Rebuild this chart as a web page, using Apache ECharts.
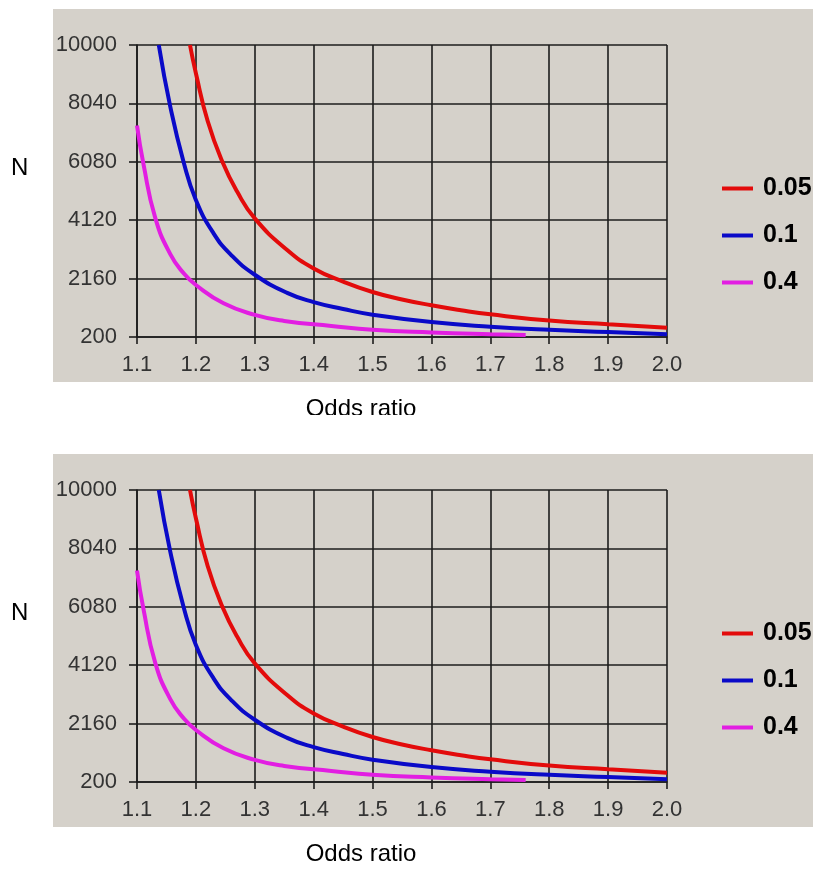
<!DOCTYPE html>
<html>
<head>
<meta charset="utf-8">
<title>N vs Odds ratio</title>
<script src="https://cdn.jsdelivr.net/npm/echarts@6/dist/echarts.min.js"></script>
<style>
	html, body { margin: 0; padding: 0; background: #fff; }
	.chart { position: absolute; left: 0; width: 813px; overflow: hidden; }
	#chartTop { top: 0; height: 415px; }
	#chartBottom { top: 445px; height: 424px; }
</style>
</head>
<body>
<div id="chartTop" class="chart"></div>
<div id="chartBottom" class="chart"></div>
<script>
// legend names (significance level)
var seriesNames = ['0.05', '0.1', '0.4'];

// [odds ratio, N]
var n005 = [
	[1.19, 10000], [1.20, 9050], [1.22, 7450], [1.245, 6080], [1.27, 5080],
	[1.30, 4180], [1.355, 3120], [1.40, 2500], [1.45, 2060], [1.50, 1710],
	[1.55, 1460], [1.60, 1265], [1.65, 1100], [1.70, 960], [1.80, 750],
	[1.90, 626], [2.00, 514]
];
var n01 = [
	[1.137, 10000], [1.1565, 7930], [1.179, 6084], [1.20, 4800], [1.23, 3680],
	[1.26, 2950], [1.30, 2290], [1.355, 1680], [1.40, 1370], [1.45, 1140],
	[1.50, 950], [1.60, 700], [1.70, 545], [1.80, 440], [1.90, 368], [2.00, 295]
];
var n04 = [
	[1.10, 7300], [1.111, 6000], [1.131, 4200], [1.1565, 2980], [1.18, 2320],
	[1.20, 1945], [1.247, 1331], [1.30, 945], [1.35, 740], [1.43, 570],
	[1.50, 440], [1.60, 350], [1.70, 290], [1.76, 265]
];

var xTicks = [1.1, 1.2, 1.3, 1.4, 1.5, 1.6, 1.7, 1.8, 1.9, 2.0];
var yTicks = [200, 2160, 4120, 6080, 8040, 10000];

var lineColors = ['#e30b0b', '#0a0ac8', '#e21ee2'];
var textFont = '"Liberation Sans", Arial, sans-serif';

function buildOption() {
	var dataList = [n005, n01, n04];
	var series = [];
	for (var i = 0; i < dataList.length; i++) {
		series.push({
			name: seriesNames[i],
			type: 'line',
			data: dataList[i],
			smooth: 0.5,
			showSymbol: false,
			lineStyle: { width: 4, color: lineColors[i] },
			itemStyle: { color: lineColors[i] }
		});
	}

	var gridLine = { color: '#1c1c1c', width: 1.6 };

	return {
		backgroundColor: '#fff',
		animation: false,
		graphic: [
			{ type: 'rect', z: -10, shape: { x: 53, y: 9, width: 760, height: 373 }, style: { fill: '#d5d1ca' } },
			{ type: 'text', z: 10, x: 11, y: 168, style: { text: 'N', font: '24px ' + textFont, fill: '#000', verticalAlign: 'middle' } },
			{ type: 'text', z: 10, x: 361, y: 409, style: { text: 'Odds ratio', font: '24px ' + textFont, fill: '#000', align: 'center', verticalAlign: 'middle' } }
		],
		legend: {
			orient: 'vertical',
			left: 717,
			top: 171,
			icon: 'rect',
			itemWidth: 31,
			itemHeight: 4,
			itemGap: 22,
			data: seriesNames,
			textStyle: { fontSize: 25, lineHeight: 24, fontWeight: 'bold', color: '#000', fontFamily: textFont, padding: [0, 0, 0, 5] }
		},
		grid: { left: 137, top: 45, width: 530, height: 292, containLabel: false },
		xAxis: {
			type: 'value',
			min: xTicks[0],
			max: xTicks[xTicks.length - 1],
			interval: Math.round((xTicks[1] - xTicks[0]) * 10) / 10,
			axisLine: { show: true, onZero: false, lineStyle: gridLine },
			axisTick: { show: true, length: 7, lineStyle: gridLine },
			splitLine: { show: true, lineStyle: gridLine },
			axisLabel: {
				margin: 17,
				fontSize: 22,
				fontFamily: textFont,
				color: '#333',
				formatter: function(v) { return v.toFixed(1); }
			}
		},
		yAxis: {
			type: 'value',
			min: yTicks[0],
			max: yTicks[yTicks.length - 1],
			interval: yTicks[1] - yTicks[0],
			axisLine: { show: true, lineStyle: gridLine },
			axisTick: { show: true, length: 8, lineStyle: gridLine },
			splitLine: { show: true, lineStyle: gridLine },
			axisLabel: {
				margin: 20,
				fontSize: 22,
				fontFamily: textFont,
				color: '#333',
				formatter: function(v) { return String(Math.round(v)); }
			}
		},
		series: series
	};
}

var topChart = echarts.init(document.getElementById('chartTop'));
topChart.setOption(buildOption());
var bottomChart = echarts.init(document.getElementById('chartBottom'));
bottomChart.setOption(buildOption());
</script>
</body>
</html>
